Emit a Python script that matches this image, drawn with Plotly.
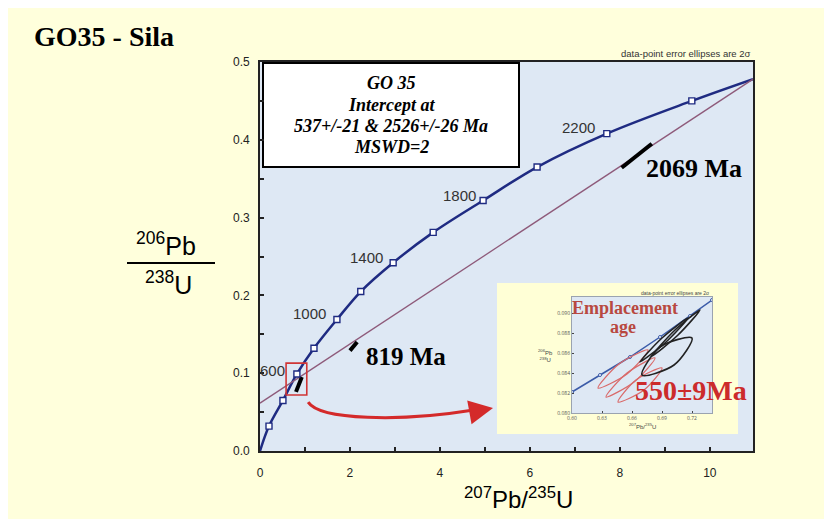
import plotly.graph_objects as go

# ---------------- data ----------------
conc_age = [0, 200, 400, 600, 800, 1000, 1200, 1400, 1600, 1800, 2000, 2200, 2400, 2526]
conc_x = [0.0, 0.20, 0.51, 0.82, 1.20, 1.71, 2.24, 2.96, 3.85, 4.96, 6.16, 7.71, 9.60, 10.96]
conc_y = [0.0, 0.032, 0.065, 0.099, 0.132, 0.169, 0.205, 0.242, 0.281, 0.322, 0.365, 0.408, 0.450, 0.478]
label_ages = [600, 1000, 1400, 1800, 2200]

disc_x = [0.0, 10.96]
disc_y = [0.0615, 0.478]

ell_x0 = [0.80, 2.00, 8.04]
ell_y0 = [0.076, 0.129, 0.364]
ell_x1 = [0.93, 2.16, 8.71]
ell_y1 = [0.095, 0.140, 0.395]

x_ticks = [0, 2, 4, 6, 8, 10]
y_ticks = [0.0, 0.1, 0.2, 0.3, 0.4, 0.5]

# inset (zoom on the young population)
ins_conc_x = [0.600, 0.628, 0.658, 0.688, 0.718, 0.740]
ins_conc_y = [0.0821, 0.0838, 0.0856, 0.0876, 0.0897, 0.0913]
ins_red = [
    ([0.626, 0.655, 0.676, 0.647], [0.0825, 0.0839, 0.0863, 0.0849]),
    ([0.634, 0.662, 0.683, 0.655], [0.0816, 0.0831, 0.0855, 0.0840]),
    ([0.646, 0.672, 0.690, 0.664], [0.0811, 0.0823, 0.0845, 0.0833]),
]
ins_black = [
    ([0.668, 0.694, 0.716, 0.690], [0.0851, 0.0871, 0.0895, 0.0875]),
    ([0.680, 0.706, 0.728, 0.702], [0.0857, 0.0878, 0.0903, 0.0882]),
    ([0.670, 0.702, 0.720, 0.688], [0.0838, 0.0848, 0.0875, 0.0866]),
]

# ---------------- layout helpers (page pixel coords, body margin 8px) ----------------
OFF = 8
W, H = 832 - OFF, 519 - OFF
PL, PR, PT, PB = 260, 753, 62, 451          # plot area in page pixels
L, T = PL - OFF, PT - OFF
R, B = W - (PR - OFF), H - (PB - OFF)
PW, PH = PR - PL, PB - PT


def PX(px):
    return (px - PL) / PW


def PY(py):
    return (PB - py) / PH


BLUE = "#1F2B82"
SERIF = "Liberation Serif, Times New Roman, serif"
SANS = "Liberation Sans, Arial, sans-serif"

fig = go.Figure()

# concordia curve
fig.add_trace(go.Scatter(x=conc_x, y=conc_y, mode="lines",
                         line=dict(color=BLUE, width=2.5, shape="spline", smoothing=1.0),
                         hoverinfo="skip", showlegend=False))
# discordia
fig.add_trace(go.Scatter(x=disc_x, y=disc_y, mode="lines",
                         line=dict(color="#8E5A7A", width=1.3),
                         hoverinfo="skip", showlegend=False))
# data ellipses (very elongated)
for a, b, c, d in zip(ell_x0, ell_y0, ell_x1, ell_y1):
    fig.add_trace(go.Scatter(x=[a, c], y=[b, d], mode="lines",
                             line=dict(color="black", width=4),
                             hoverinfo="skip", showlegend=False))
# concordia age markers
fig.add_trace(go.Scatter(x=conc_x[1:-1], y=conc_y[1:-1], mode="markers",
                         marker=dict(symbol="square", size=6, color="white",
                                     line=dict(color=BLUE, width=1.4)),
                         hoverinfo="skip", showlegend=False))

# inset subplot
fig.add_trace(go.Scatter(x=ins_conc_x, y=ins_conc_y, mode="lines+markers", xaxis="x2", yaxis="y2",
                         line=dict(color="#3B5BA8", width=1.5),
                         marker=dict(size=3, color="white", line=dict(color="#3B5BA8", width=1)),
                         hoverinfo="skip", showlegend=False))
for xs, ys in ins_red:
    fig.add_trace(go.Scatter(x=xs + [xs[0]], y=ys + [ys[0]], mode="lines", xaxis="x2", yaxis="y2",
                             line=dict(color="#D96A6A", width=1.3, shape="spline", smoothing=0.9),
                             hoverinfo="skip", showlegend=False))
for xs, ys in ins_black:
    fig.add_trace(go.Scatter(x=xs + [xs[0]], y=ys + [ys[0]], mode="lines", xaxis="x2", yaxis="y2",
                             line=dict(color="#222222", width=1.6, shape="spline", smoothing=0.9),
                             hoverinfo="skip", showlegend=False))

shapes = [
    # result text box
    dict(type="rect", xref="paper", yref="paper", x0=PX(263), x1=PX(519), y0=PY(167), y1=PY(63),
         fillcolor="white", line=dict(color="black", width=2), layer="below"),
    # inset frame
    dict(type="rect", xref="paper", yref="paper", x0=PX(497), x1=PX(738), y0=PY(434), y1=PY(283),
         fillcolor="#FFFFD6", line=dict(width=0), layer="below"),
    # y-axis fraction bar
    dict(type="line", xref="paper", yref="paper", x0=PX(127), x1=PX(215), y0=PY(263), y1=PY(263),
         line=dict(color="black", width=2)),
    # red box around young population
    dict(type="rect", xref="x", yref="y", x0=0.58, x1=1.04, y0=0.072, y1=0.113,
         line=dict(color="#D03535", width=1.6), fillcolor="rgba(0,0,0,0)"),
    # curved red arrow body
    dict(type="path", xref="x", yref="y",
         path="M 1.07 0.0628 C 1.33 0.0397 3.11 0.0372 4.75 0.0526",
         line=dict(color="#D42A2A", width=3)),
]

ann = []


def text(px, py, s, size, family=SANS, color="black", xanchor="center", yanchor="middle"):
    ann.append(dict(x=PX(px), y=PY(py), xref="paper", yref="paper", text=s, showarrow=False,
                    font=dict(size=size, family=family, color=color),
                    xanchor=xanchor, yanchor=yanchor))


text(32, 36, "<b>GO35 - Sila</b>", 28, SERIF, xanchor="left")
text(391, 83, "<b><i>GO 35</i></b>", 18, SERIF)
text(391, 105, "<b><i>Intercept at</i></b>", 18, SERIF)
text(391, 126, "<b><i>537+/-21 &amp; 2526+/-26 Ma</i></b>", 18, SERIF)
text(391, 147, "<b><i>MSWD=2</i></b>", 18, SERIF)
text(753, 53, "data-point error ellipses are 2σ", 9.5, SANS, "#333333", xanchor="right")
text(406, 356, "<b>819 Ma</b>", 25, SERIF)
text(694, 168, "<b>2069 Ma</b>", 26, SERIF)
text(166, 244, "<sup>206</sup>Pb", 25, SANS)
text(168, 283, "<sup>238</sup>U", 25, SANS)
text(518, 498, "<sup>207</sup>Pb/<sup>235</sup>U", 24, SANS)
# inset texts
text(625, 308, "<b>Emplacement</b>", 18, SERIF, "#B84840")
text(623, 327, "<b>age</b>", 18, SERIF, "#B84840")
text(691, 390, "<b>550±9Ma</b>", 28, SERIF, "#CC2B2B")
text(545, 355, "<sup>206</sup>Pb<br><sup>238</sup>U", 6, SANS, "#444444")
text(642, 426, "<sup>207</sup>Pb/<sup>235</sup>U", 6, SANS, "#444444")
text(712, 293, "data-point error ellipses are 2σ", 5, SANS, "#444444", xanchor="right")

# concordia age labels
offsets = {600: (-10, 3), 1000: (-9, 6), 1400: (-8, 5), 1800: (-5, 5), 2200: (-10, 6)}
for age in label_ages:
    i = conc_age.index(age)
    dx, dy = offsets[age]
    ann.append(dict(x=conc_x[i], y=conc_y[i], xref="x", yref="y", text=str(age), showarrow=False,
                    xanchor="right", yanchor="middle", xshift=dx, yshift=dy,
                    font=dict(size=15, family=SANS, color="#333333")))

# arrow head
ann.append(dict(x=5.18, y=0.0552, xref="x", yref="y", ax=-22, ay=4, text="", showarrow=True,
                arrowhead=2, arrowsize=1.6, arrowwidth=3, arrowcolor="#D42A2A"))

fig.update_layout(
    width=W, height=H,
    margin=dict(l=L, r=R, t=T, b=B),
    paper_bgcolor="#FFFFDC",
    plot_bgcolor="#DEE8F4",
    shapes=shapes,
    annotations=ann,
    xaxis=dict(range=[0, 10.96], tickvals=x_ticks, ticks="inside", ticklen=4, tickwidth=1.5,
               tickcolor="#222", showgrid=False, zeroline=False, showline=True, mirror=True,
               linecolor="#222", linewidth=1.6, ticklabelstandoff=10,
               tickfont=dict(size=12, family=SANS, color="#222"),
               minor=dict(dtick=1, ticks="inside", ticklen=4, tickcolor="#222", showgrid=False)),
    yaxis=dict(range=[0, 0.5], tickvals=y_ticks, tickformat=".1f", ticks="inside", ticklen=4,
               tickwidth=1.5, tickcolor="#222", showgrid=False, zeroline=False, showline=True,
               mirror=True, linecolor="#222", linewidth=1.6, ticklabelstandoff=6,
               tickfont=dict(size=12, family=SANS, color="#222"),
               minor=dict(dtick=0.05, ticks="inside", ticklen=4, tickcolor="#222", showgrid=False)),
    xaxis2=dict(domain=[PX(572), PX(712)], anchor="y2", range=[0.60, 0.74], dtick=0.03,
                ticks="inside", ticklen=2, showgrid=False, zeroline=False, showline=True,
                mirror=True, linecolor="#9AA3B0", linewidth=1, tickformat=".2f",
                tickfont=dict(size=5, color="#555")),
    yaxis2=dict(domain=[PY(413), PY(297)], anchor="x2", range=[0.0800, 0.0916], dtick=0.002,
                ticks="inside", ticklen=2, showgrid=False, zeroline=False, showline=True,
                mirror=True, linecolor="#9AA3B0", linewidth=1, tickformat=".3f",
                tickfont=dict(size=5, color="#555")),
)

fig.write_html("out.html")
